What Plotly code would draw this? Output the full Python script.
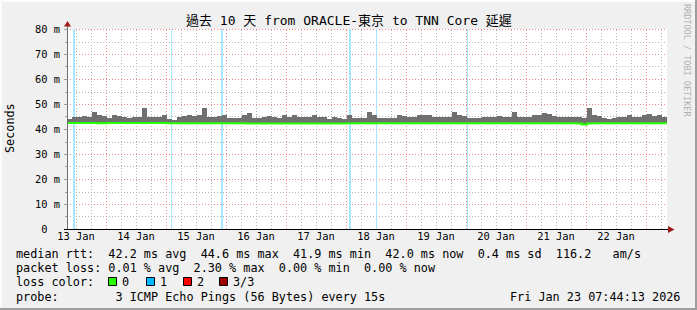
import plotly.graph_objects as go
import pandas as pd

# ---------------- data ----------------
START = pd.Timestamp("2026-01-13 08:24")
END = START + pd.Timedelta(days=10)
BIN_HOURS = 2

# smoke top (max ping) per 2-hour bin, ms
smoke_max = [
    44.2, 44.7, 44.8, 45.1, 44.8, 46.9, 45.6, 45.3, 44.5, 45.5,
    45.2, 44.8, 44.6, 44.9, 45.0, 48.4, 44.9, 44.7, 45.0, 45.7,
    44.1, 43.8, 44.9, 45.2, 45.6, 45.3, 45.5, 48.3, 45.0, 44.8,
    45.2, 45.5, 44.4, 44.6, 44.5, 45.6, 46.5, 44.6, 44.5, 44.8,
    45.4, 44.7, 44.5, 45.5, 45.0, 45.5, 44.8, 44.9, 44.7, 45.5,
    44.8, 44.9, 44.2, 44.8, 44.3, 44.2, 45.5, 44.5, 44.6, 44.4,
    47.0, 45.8, 44.5, 44.6, 44.4, 44.6, 45.6, 45.2, 44.8, 45.0,
    45.8, 45.6, 45.5, 44.8, 44.9, 44.7, 44.8, 47.0, 45.5, 45.4,
    44.5, 44.6, 44.5, 44.9, 44.8, 44.7, 45.3, 44.9, 44.7, 47.0,
    44.8, 44.9, 45.0, 45.5, 45.6, 46.3, 46.2, 45.2, 44.8, 44.9,
    44.7, 44.8, 44.8, 44.6, 48.4, 45.6, 45.4, 44.3, 44.2, 44.4,
    45.0, 44.9, 45.8, 45.0, 44.8, 45.5, 46.2, 45.4, 45.5, 45.0,
]

# median rtt per 2-hour bin, ms
median_rtt = [
    42.4, 42.4, 42.4, 42.4, 42.4, 42.4, 42.3, 42.3, 42.4, 42.4,
    42.4, 42.4, 42.4, 42.4, 42.4, 42.4, 42.4, 42.4, 42.4, 42.4,
    42.3, 42.3, 42.3, 42.3, 42.3, 42.3, 42.3, 42.3, 42.3, 42.3,
    42.3, 42.3, 42.3, 42.3, 42.3, 42.3, 42.2, 42.2, 42.2, 42.2,
    42.2, 42.2, 42.2, 42.2, 42.2, 42.2, 42.2, 42.2, 42.2, 42.2,
    42.2, 42.2, 42.2, 42.2, 42.2, 42.2, 42.3, 42.3, 42.3, 42.3,
    42.3, 42.3, 42.3, 42.3, 42.3, 42.3, 42.3, 42.3, 42.3, 42.3,
    42.3, 42.3, 42.3, 42.3, 42.3, 42.3, 42.3, 42.3, 42.3, 42.3,
    42.3, 42.3, 42.3, 42.3, 42.3, 42.3, 42.3, 42.3, 42.3, 42.3,
    42.3, 42.3, 42.3, 42.3, 42.3, 42.3, 42.3, 42.3, 42.3, 42.3,
    42.3, 42.3, 42.2, 41.8, 42.2, 42.3, 42.3, 42.3, 42.3, 42.3,
    42.3, 42.3, 42.3, 42.3, 42.3, 42.3, 42.3, 42.3, 42.3, 42.3,
]

# packet-loss events (1 of 3 pings lost)
loss_start = ["2026-01-13 10:48", "2026-01-15 02:00", "2026-01-15 22:00",
              "2026-01-18 01:12", "2026-01-18 12:00", "2026-01-20 00:24"]
loss_minutes = [48, 24, 48, 48, 24, 24]

Y_MAX = 80
Y_STEP = 10
Y_MINOR = 5
Y_UNIT = " m"

title_text = "過去 10 天 from ORACLE-東京 to TNN Core 延遲"
legend_rows = [
    "median rtt:  42.2 ms avg  44.6 ms max  41.9 ms min  42.0 ms now  0.4 ms sd  116.2   am/s",
    "packet loss: 0.01 % avg  2.30 % max  0.00 % min  0.00 % now",
    "loss color:",
    "probe:        3 ICMP Echo Pings (56 Bytes) every 15s",
]
loss_labels = ["0", "1", "2", "3/3"]
loss_colors = ["#26ff00", "#00b8ff", "#ff0000", "#a00000"]
timestamp_text = "Fri Jan 23 07:44:13 2026"

# ---------------- geometry helpers ----------------
W, H = 697, 310
PL, PR, PT, PB = 67, 667, 29, 229
FONT = "DejaVu Sans Mono, Noto Sans CJK TC, monospace"
AXFONT = 10.4
SEC_PER_PX = (END - START).total_seconds() / (PR - PL)


def fx(px):
    return (px - PL) / (PR - PL)


def fy(py):
    return (PB - py) / (PB - PT)


def nb(s):
    return s.replace(" ", "\u00a0")


bin_td = pd.Timedelta(hours=BIN_HOURS)
n = len(smoke_max)
bin_start = [START + i * bin_td for i in range(n)]
bin_center = [t + bin_td / 2 for t in bin_start]
bin_ms = bin_td.total_seconds() * 1000

loss_t0 = [pd.Timestamp(s) for s in loss_start]
loss_center = [t + pd.Timedelta(minutes=m) / 2 for t, m in zip(loss_t0, loss_minutes)]
loss_width = [m * 60 * 1000 for m in loss_minutes]

fig = go.Figure()

# loss background bands
fig.add_trace(go.Bar(
    x=loss_center, y=[Y_MAX] * len(loss_center), width=loss_width,
    marker=dict(color="#a6e6ff", line=dict(width=0)),
    hoverinfo="skip", showlegend=False,
))

# smoke
fig.add_trace(go.Bar(
    x=bin_center, y=[mx - md for mx, md in zip(smoke_max, median_rtt)],
    base=median_rtt, width=[bin_ms] * n,
    marker=dict(color="#707070", line=dict(width=0)),
    hoverinfo="skip", showlegend=False,
))

# median line
fig.add_trace(go.Scatter(
    x=bin_start + [END], y=median_rtt + [median_rtt[-1]],
    mode="lines", line=dict(color="#26ff00", width=2, shape="hv"),
    hoverinfo="skip", showlegend=False,
))

GRID = "#b2b2b2"
MGRID = "#f08a8a"
DASH = "1px,2px"

fig.update_layout(
    width=W, height=H, autosize=False,
    margin=dict(l=PL, r=W - PR, t=PT, b=H - PB, pad=0),
    paper_bgcolor="#f0f0f0", plot_bgcolor="#ffffff",
    barmode="overlay", bargap=0,
    font=dict(family=FONT, size=11.8, color="#000000"),
    showlegend=False,
    xaxis=dict(
        type="date", range=[START, END], fixedrange=True,
        tick0="2026-01-13 00:00", dtick=86400000,
        tickformat="%d %b", ticklabelmode="period",
        showgrid=False, ticks="", showline=False, zeroline=False,
        tickfont=dict(family=FONT, size=AXFONT, color="#000"),
    ),
    yaxis=dict(
        range=[0, Y_MAX], fixedrange=True,
        tickmode="linear", tick0=0, dtick=Y_STEP,
        ticksuffix=Y_UNIT, labelalias={"0" + Y_UNIT: "0\u00a0\u00a0"},
        showgrid=False, ticks="", ticklabelstandoff=6,
        showline=False, zeroline=False,
        tickfont=dict(family=FONT, size=AXFONT, color="#000"),
    ),
)

shapes = []
# ---- grid (drawn as crisp dotted lines, pixel-centred) ----
for v in range(Y_MINOR, Y_MAX + 1, Y_MINOR):
    row = round(PB - v * (PB - PT) / Y_MAX)
    major = v % Y_STEP == 0
    py = row + 0.5
    shapes.append(dict(type="line", xref="paper", yref="paper", x0=0, x1=1, y0=fy(py), y1=fy(py),
                       line=dict(color=MGRID if major else GRID, width=1, dash=DASH), layer="below"))
    shapes.append(dict(type="line", xref="paper", yref="paper", x0=fx(64 if major else 65), x1=fx(67),
                       y0=fy(py), y1=fy(py), line=dict(color="#a0a0a0", width=1), layer="above"))
grid_times = pd.date_range("2026-01-13 12:00", END, freq="6h")
for t in grid_times:
    if t <= START:
        continue
    col = round(PL + (t - START).total_seconds() / SEC_PER_PX)
    major = t.hour == 0
    px = col + 0.5
    shapes.append(dict(type="line", xref="paper", yref="paper", x0=fx(px), x1=fx(px), y0=0, y1=1,
                       line=dict(color=MGRID if major else GRID, width=1, dash=DASH), layer="below"))

# 3D border
shapes.append(dict(type="rect", xref="paper", yref="paper", x0=fx(0), x1=fx(W), y0=fy(0), y1=fy(2),
                   fillcolor="#fbfbfb", line=dict(width=0), layer="below"))
shapes.append(dict(type="rect", xref="paper", yref="paper", x0=fx(0), x1=fx(2), y0=fy(0), y1=fy(H),
                   fillcolor="#fbfbfb", line=dict(width=0), layer="below"))
shapes.append(dict(type="rect", xref="paper", yref="paper", x0=fx(W - 2), x1=fx(W), y0=fy(0), y1=fy(H),
                   fillcolor="#9e9e9e", line=dict(width=0), layer="below"))
shapes.append(dict(type="rect", xref="paper", yref="paper", x0=fx(0), x1=fx(W), y0=fy(H - 2), y1=fy(H),
                   fillcolor="#9e9e9e", line=dict(width=0), layer="below"))
# axes lines
shapes.append(dict(type="line", xref="paper", yref="paper", x0=fx(67.5), x1=fx(67.5), y0=fy(229), y1=fy(24),
                   line=dict(color="#707070", width=1)))
shapes.append(dict(type="line", xref="paper", yref="paper", x0=fx(64), x1=fx(670), y0=fy(229.5), y1=fy(229.5),
                   line=dict(color="#000000", width=1)))
# arrows
shapes.append(dict(type="path", xref="paper", yref="paper",
                   path="M {} {} L {} {} L {} {} Z".format(fx(64), fy(26.5), fx(71), fy(26.5), fx(67.5), fy(21)),
                   fillcolor="#9b1b1b", line=dict(width=0)))
shapes.append(dict(type="path", xref="paper", yref="paper",
                   path="M {} {} L {} {} L {} {} Z".format(fx(668), fy(226), fx(668), fy(233), fx(674.5), fy(229.5)),
                   fillcolor="#9b1b1b", line=dict(width=0)))
# loss color legend swatches
sw_x = [108, 146, 183, 219]
for x0, c in zip(sw_x, loss_colors):
    shapes.append(dict(type="rect", xref="paper", yref="paper",
                       x0=fx(x0 + 0.5), x1=fx(x0 + 8.5), y0=fy(277.5), y1=fy(285.5),
                       fillcolor=c, line=dict(color="#000000", width=1)))
fig.update_layout(shapes=shapes)

ann = []


def add_text(text, px, py, xanchor="left", size=11.8, color="#000", angle=0):
    ann.append(dict(text=nb(text), x=fx(px), y=fy(py), xref="paper", yref="paper",
                    xanchor=xanchor, yanchor="middle", showarrow=False, textangle=angle,
                    font=dict(family=FONT, size=size, color=color), borderpad=0))


add_text(title_text, 348.5, 21, xanchor="center", size=13)
rows_y = [254, 268, 282, 296.5]
for txt, yy in zip(legend_rows, rows_y):
    add_text(txt, 15, yy)
for x0, lab in zip(sw_x, loss_labels):
    add_text(lab, x0 + 12.5, 282)
add_text(timestamp_text, 681, 296.5, xanchor="right")
add_text("Seconds", 10, 128, xanchor="center", angle=-90)
add_text("RRDTOOL / TOBI OETIKER", 687, 60, xanchor="center", size=8.5, color="#b0b0b0", angle=90)
fig.update_layout(annotations=ann)

fig.write_html("out.html")
